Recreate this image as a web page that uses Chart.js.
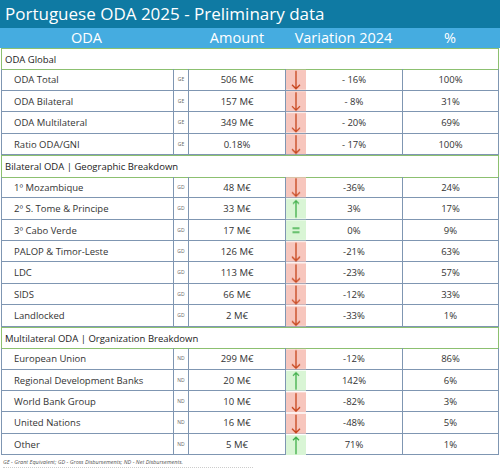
<!DOCTYPE html><html><head><meta charset="utf-8">
<script src="https://cdn.jsdelivr.net/npm/chart.js@4"></script>
<style>
body{margin:0;background:#fff;font-family:"Open Sans",sans-serif;}
#wrap{position:relative;width:500px;height:473px;}
.a{position:absolute;box-sizing:border-box;white-space:nowrap;}
</style></head><body><div id="wrap"></div>
<script>
const sections=["ODA Global","Bilateral ODA | Geographic Breakdown","Multilateral ODA | Organization Breakdown"];
const labels=[["ODA Total","ODA Bilateral","ODA Multilateral","Ratio ODA/GNI"],
["1º Mozambique","2º S. Tome & Principe","3º Cabo Verde","PALOP & Timor-Leste","LDC","SIDS","Landlocked"],
["European Union","Regional Development Banks","World Bank Group","United Nations","Other"]];
const codes=[["GE","GE","GE","GE"],["GD","GD","GD","GD","GD","GD","GD"],["ND","ND","ND","ND","ND"]];
const amounts=[["506 M€","157 M€","349 M€","0.18%"],["48 M€","33 M€","17 M€","126 M€","113 M€","66 M€","2 M€"],["299 M€","20 M€","10 M€","16 M€","5 M€"]];
const variation=[[-16,-8,-20,-17],[-36,3,0,-21,-23,-12,-33],[-12,142,-82,-48,71]];
const varLabels=[["- 16%","- 8%","- 20%","- 17%"],["-36%","3%","0%","-21%","-23%","-12%","-33%"],["-12%","142%","-82%","-48%","71%"]];
const share=[["100%","31%","69%","100%"],["24%","17%","9%","63%","57%","33%","1%"],["86%","6%","3%","5%","1%"]];

const W=document.getElementById('wrap');
function el(x,y,w,h,css,txt){const d=document.createElement('div');d.className='a';d.style.cssText=`left:${x}px;top:${y}px;width:${w}px;height:${h}px;line-height:${h}px;`+css;if(txt!=null)d.textContent=txt;W.appendChild(d);return d;}
el(0,0,500,28,'background:#0f7aa3;color:#fff;font-size:17px;padding-left:5px;line-height:27px;font-family:"Open Sans";','Portuguese ODA 2025 - Preliminary data');
el(0,28,500,20,'background:#45ace0;',null);
const hc='color:#fff;font-size:14.5px;text-align:center;';
el(0,28,173,20,hc,'ODA');el(189,28,96,20,hc,'Amount');el(285,28,117,20,hc,'Variation 2024');el(402,28,96,20,hc,'%');
const RH=21.44, top0=48;
let r=0;
const bc='#7f96b2';
sections.forEach((s,si)=>{
  const y=top0+r*RH;
  el(1,y,498,RH+1,'border:1px solid #8cc070;background:#fff;font-size:9.5px;padding-left:3px;color:#222;',s);
  r++;
  labels[si].forEach((l,i)=>{
    const y=top0+r*RH;
    el(1,y,172,RH,`border-bottom:1px solid ${bc};border-left:1px solid ${bc};font-size:9.5px;padding-left:12px;color:#333;`,l);
    el(173,y,16,RH,`border:1px solid ${bc};border-top:none;font-size:5px;text-align:center;color:#666;`,codes[si][i]);
    el(189,y,96,RH,`border-bottom:1px solid ${bc};font-size:9.5px;text-align:center;color:#333;`,amounts[si][i]);
    el(285,y,21,RH,`border-left:1px solid ${bc};border-bottom:1px solid ${bc};`,null);
    el(306,y,96,RH,`border-bottom:1px solid ${bc};font-size:9.5px;text-align:center;color:#333;`,varLabels[si][i]);
    el(402,y,97,RH,`border-left:1px solid ${bc};border-bottom:1px solid ${bc};border-right:1px solid ${bc};font-size:9.5px;text-align:center;color:#333;`,share[si][i]);
    r++;
  });
});
el(3,456,250,12,'font-size:5.5px;font-style:italic;color:#555;line-height:12px;border-bottom:1px dotted #ccc;','GE - Grant Equivalent;  GD - Gross Disbursements;  ND - Net Disbursements.');
const cv=document.createElement('canvas');
const cWrap=el(286,top0+RH,20,RH*18,'pointer-events:none;',null);
cWrap.appendChild(cv);
const cats=[],vals=[];
variation.forEach((arrv,si)=>{ if(si>0){cats.push('s'+si);vals.push(null);} arrv.forEach((v,i)=>{cats.push(labels[si][i]);vals.push(v);});});
new Chart(cv,{type:'bar',data:{labels:cats,datasets:[{data:vals.map(v=>v==null?null:[0,1]),
 backgroundColor:vals.map(v=>v==null?'rgba(0,0,0,0)':(v<0?'#f7c6bd':'#d9f5d5')),categoryPercentage:0.93,barPercentage:1}]},
 options:{indexAxis:'y',responsive:true,maintainAspectRatio:false,animation:false,events:[],
 layout:{padding:0},plugins:{legend:{display:false},tooltip:{enabled:false}},
 scales:{x:{display:false,min:0,max:1},y:{display:false}}},
 plugins:[{id:'arrows',afterDatasetsDraw(c){const ctx=c.ctx;const m=c.getDatasetMeta(0);
  m.data.forEach((b,i)=>{const v=vals[i];if(v==null)return;const x=b.x/2+b.base/2,y=b.y;
   ctx.save();ctx.lineWidth=1.3;
   if(v===0){ctx.strokeStyle='#3fae49';ctx.lineWidth=1.6;ctx.beginPath();ctx.moveTo(x-3.5,y-2);ctx.lineTo(x+3.5,y-2);ctx.moveTo(x-3.5,y+2);ctx.lineTo(x+3.5,y+2);ctx.stroke();}
   else if(v<0){ctx.strokeStyle='#c7451c';ctx.beginPath();ctx.moveTo(x,y-9);ctx.lineTo(x,y+9);ctx.moveTo(x-4,y+5);ctx.lineTo(x,y+9);ctx.lineTo(x+4,y+5);ctx.stroke();}
   else{ctx.strokeStyle='#3fae49';ctx.beginPath();ctx.moveTo(x,y+9);ctx.lineTo(x,y-8);ctx.moveTo(x-3,y-5);ctx.lineTo(x,y-8);ctx.lineTo(x+3,y-5);ctx.stroke();}
   ctx.restore();});}}]});
</script></body></html>
